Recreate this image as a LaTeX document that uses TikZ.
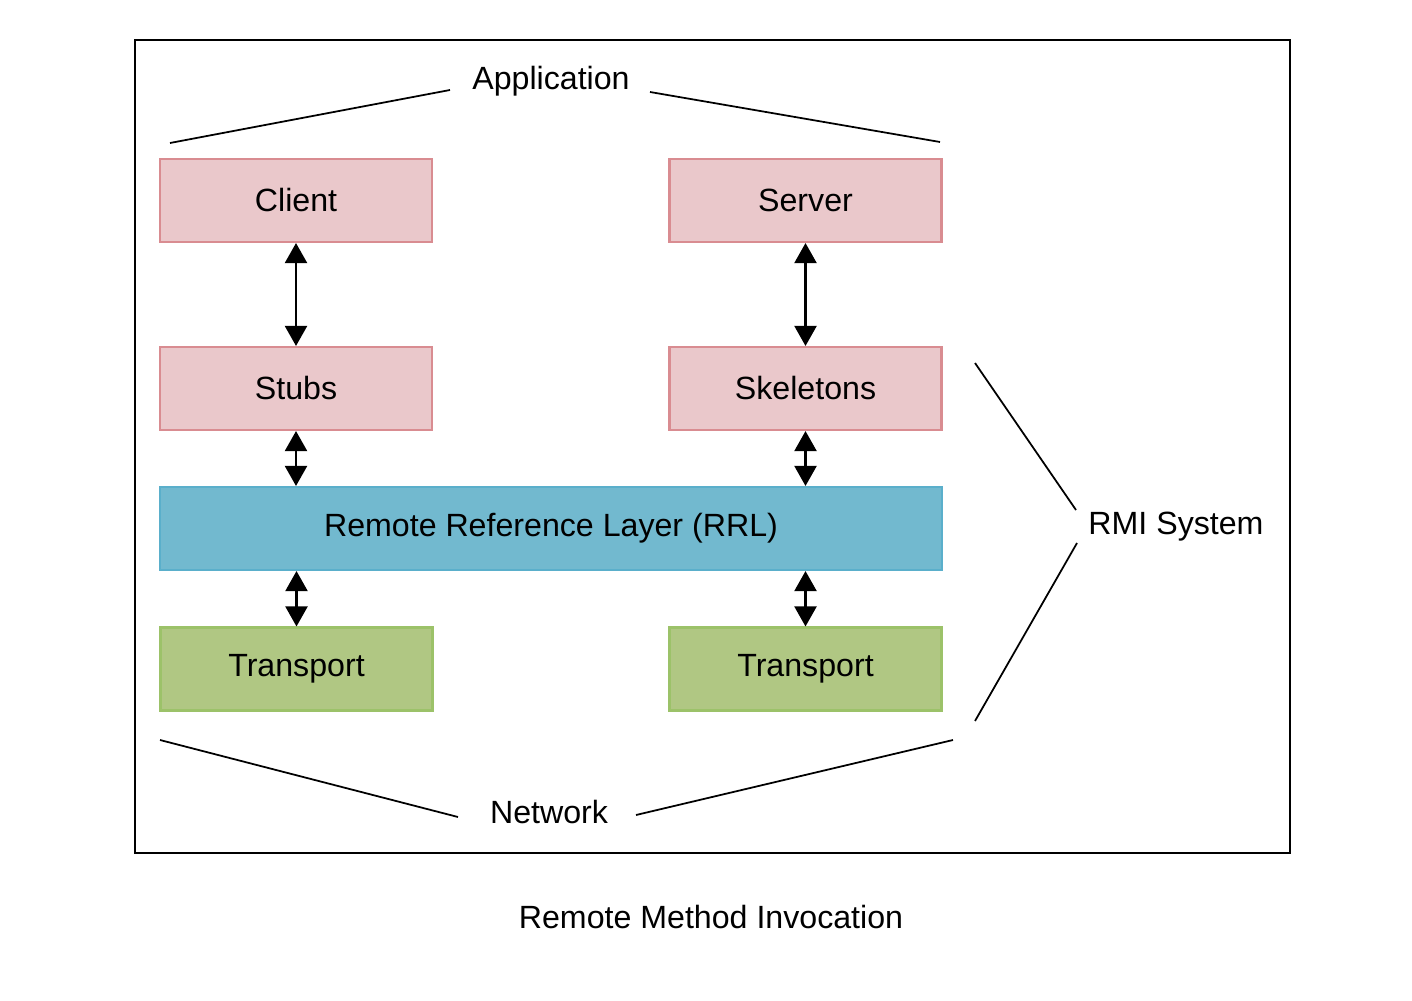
\documentclass[tikz,border=0pt]{standalone}
\usepackage{fontspec}
\setmainfont{Liberation Sans}
\usetikzlibrary{arrows.meta}
\definecolor{pinkfill}{HTML}{EAC8CB}
\definecolor{pinkline}{HTML}{D98C91}
\definecolor{bluefill}{HTML}{72B9CF}
\definecolor{blueline}{HTML}{5AAFCB}
\definecolor{greenfill}{HTML}{B0C783}
\definecolor{greenline}{HTML}{9CC269}
\tikzset{
  layer/.style={draw, line width=1.2pt, minimum width=5.44cm, minimum height=1.66cm, font=\fontsize{18.3}{22}\selectfont},
  pinkbox/.style={layer, draw=pinkline, fill=pinkfill},
  greenbox/.style={layer, draw=greenline, fill=greenfill},
  bluebox/.style={layer, draw=blueline, fill=bluefill, minimum width=15.64cm},
  link/.style={line width=1.2pt, {Triangle[width=0.44cm,length=0.4cm]}-{Triangle[width=0.44cm,length=0.4cm]}},
  brace/.style={line width=1pt},
  tag/.style={font=\fontsize{18.3}{22}\selectfont}
}
\begin{document}
\begin{tikzpicture}[x=0.02cm,y=-0.02cm]
\useasboundingbox (0,0) rectangle (1412,1000);
\draw[line width=1pt] (135,40) rectangle (1290,853);
\node[pinkbox] (client) at (296,200.5) {Client};
\node[pinkbox] (server) at (805.5,200.5) {Server};
\node[pinkbox] (stubs) at (296,388.5) {Stubs};
\node[pinkbox] (skeletons) at (805.5,388.5) {Skeletons};
\node[bluebox] (rrl) at (551,528.5) {Remote Reference Layer (RRL)};
\node[greenbox] (transportl) at (296.5,669) {Transport};
\node[greenbox] (transportr) at (805.5,669) {Transport};
\draw[link] (client.south) -- (stubs.north);
\draw[link] (server.south) -- (skeletons.north);
\draw[link] (stubs.south) -- (stubs.south |- rrl.north);
\draw[link] (skeletons.south) -- (skeletons.south |- rrl.north);
\draw[link] (transportl.north |- rrl.south) -- (transportl.north);
\draw[link] (transportr.north |- rrl.south) -- (transportr.north);
\node[tag] (application) at (551,81) {Application};
\node[tag] (rmi) at (1176,527) {RMI System};
\node[tag] (network) at (549,812) {Network};
\node[tag] (caption) at (711,917) {Remote Method Invocation};
\coordinate (appl) at (170,143);
\coordinate (appr) at (940,142);
\coordinate (rmit) at (975,363);
\coordinate (rmib) at (975,721);
\coordinate (netl) at (160,740);
\coordinate (netr) at (953,740);
\draw[brace] (appl) -- (450,90);
\draw[brace] (650,92) -- (appr);
\draw[brace] (rmit) -- (1076,510);
\draw[brace] (1077,543) -- (rmib);
\draw[brace] (netl) -- (458,817);
\draw[brace] (636,815) -- (netr);
\end{tikzpicture}
\end{document}
